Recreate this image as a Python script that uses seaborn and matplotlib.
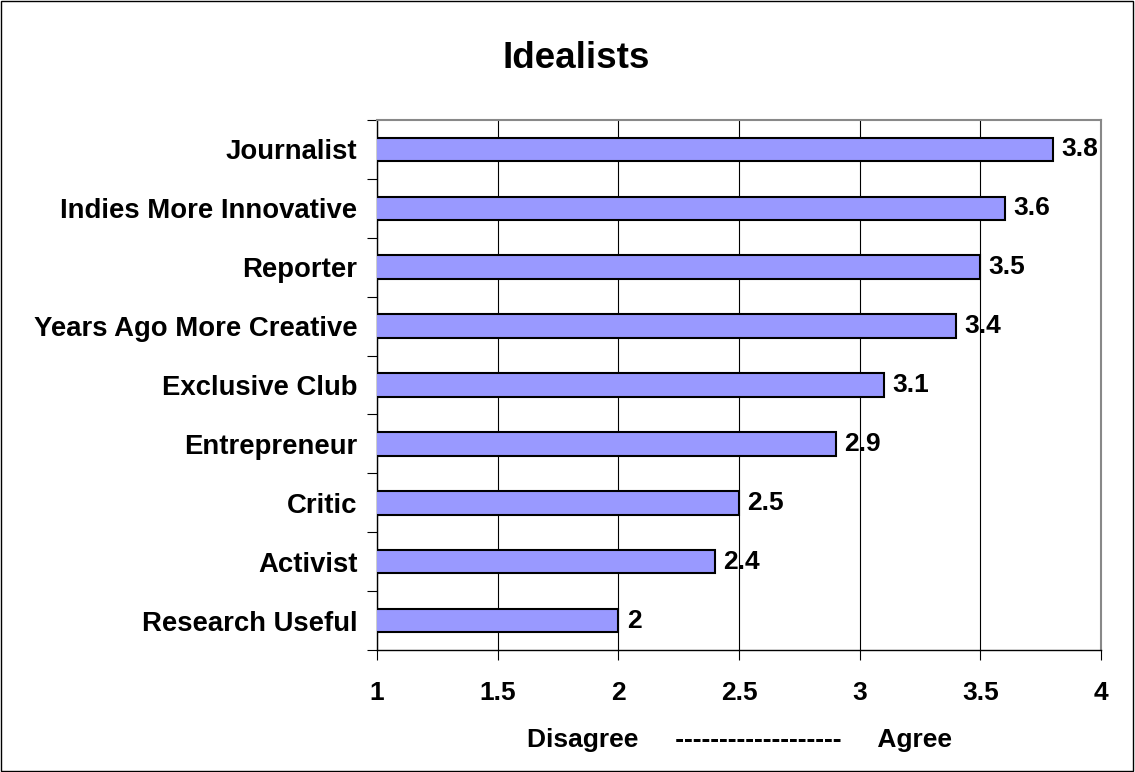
import matplotlib
import matplotlib.pyplot as plt
import numpy as np
import pandas as pd
import seaborn as sns
from matplotlib.patches import Rectangle

matplotlib.use("Agg")

categories = [
    "Journalist",
    "Indies More Innovative",
    "Reporter",
    "Years Ago More Creative",
    "Exclusive Club",
    "Entrepreneur",
    "Critic",
    "Activist",
    "Research Useful",
]
scores = [3.8, 3.6, 3.5, 3.4, 3.1, 2.9, 2.5, 2.4, 2.0]
x_ticks = [1, 1.5, 2, 2.5, 3, 3.5, 4]

df = pd.DataFrame({"item": categories, "score": scores})

sns.set_style("white")
plt.rcParams["font.family"] = ["Liberation Sans", "DejaVu Sans"]
plt.rcParams["font.weight"] = "bold"
plt.rcParams["text.color"] = "black"
plt.rcParams["xtick.color"] = "black"
plt.rcParams["ytick.color"] = "black"
plt.rcParams["axes.labelcolor"] = "black"

FS = 19

fig = plt.figure(figsize=(11.35, 7.72), dpi=100)
ax = fig.add_axes([0.3322, 0.158, 0.638, 0.6866])

sns.barplot(
    data=df,
    y="item",
    x="score",
    orient="h",
    order=categories,
    color="#9999FF",
    saturation=1,
    width=0.4,
    edgecolor="black",
    linewidth=1.5,
    ax=ax,
    zorder=3,
)

ax.set_xlim(1, 4)
ax.set_ylim(8.5, -0.5)
ax.set_xticks(x_ticks)
ax.set_xticklabels([f"{t:g}" for t in x_ticks], fontsize=FS, fontweight="bold")
ax.xaxis.grid(True, color="black", linewidth=0.8, zorder=0)
ax.set_axisbelow(True)

# category labels centred, tick marks on the boundaries
ax.set_yticks(np.arange(len(categories)))
ax.set_yticklabels(categories, fontsize=19.8, fontweight="bold")
ax.set_yticks(np.arange(-0.5, len(categories)), minor=True)
ax.tick_params(axis="y", which="major", length=0, pad=14)
ax.tick_params(axis="y", which="minor", length=7, width=0.8, direction="out", left=True)
ax.tick_params(axis="x", which="major", length=7, width=0.8,
               direction="out", pad=15, bottom=True)

for side in ["top", "right"]:
    ax.spines[side].set_color("#888888")
    ax.spines[side].set_linewidth(1.5)
for side in ["left", "bottom"]:
    ax.spines[side].set_color("black")
    ax.spines[side].set_linewidth(1)

ax.bar_label(ax.containers[0], fmt="%g", padding=6, fontsize=FS, fontweight="bold")

ax.set_ylabel("")
ax.set_xlabel("Disagree     -------------------     Agree",
              fontsize=FS, fontweight="bold", labelpad=17)
fig.text(0.5075, 0.912, "Idealists", fontsize=26.5, fontweight="bold",
         ha="center", va="baseline")

fig.patches.append(Rectangle((0.0005, 0.0008), 0.998, 0.998, transform=fig.transFigure,
                             fill=False, edgecolor="black", linewidth=1))

fig.savefig("out.png", dpi=100)
